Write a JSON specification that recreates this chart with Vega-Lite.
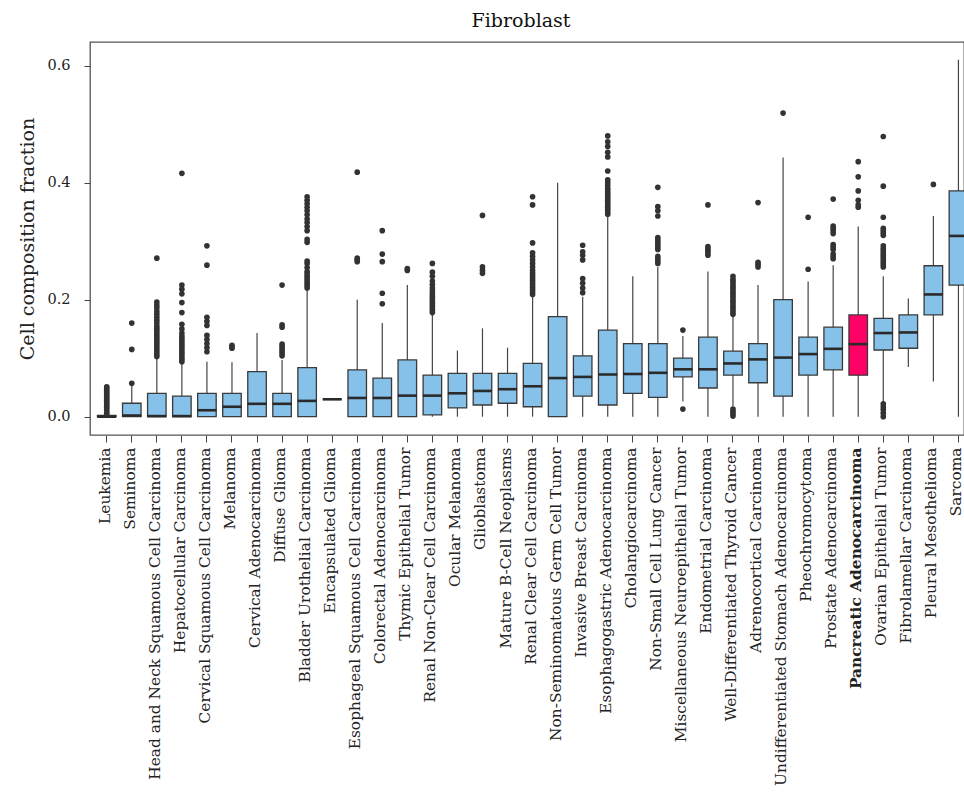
{
  "$schema": "https://vega.github.io/schema/vega-lite/v6.json",
  "width": 874,
  "height": 393,
  "autosize": {"type": "none"},
  "padding": {"left": 90, "top": 42, "right": 0, "bottom": 361},
  "background": "white",
  "config": {
    "view": {"stroke": "#555555", "strokeWidth": 1.3},
    "font": "DejaVu Serif",
    "axis": {"labelFont": "DejaVu Serif", "titleFont": "DejaVu Serif", "labelColor": "#222222", "titleColor": "#222222", "tickColor": "#444444", "domain": false, "grid": false, "labelLimit": 0}
  },
  "title": {"text": "Fibroblast", "fontSize": 19, "font": "DejaVu Serif", "fontWeight": "normal", "color": "#111111", "offset": 11, "dx": -6},
  "datasets": {
    "stats": [
      {"cancer": "Leukemia", "lo": 0.0, "q1": 0.0, "median": 0.0, "q3": 0.002, "hi": 0.003},
      {"cancer": "Seminoma", "lo": 0.0, "q1": 0.0, "median": 0.002, "q3": 0.023, "hi": 0.055},
      {"cancer": "Head and Neck Squamous Cell Carcinoma", "lo": 0.0, "q1": 0.0, "median": 0.001, "q3": 0.040, "hi": 0.100},
      {"cancer": "Hepatocellular Carcinoma", "lo": 0.0, "q1": 0.0, "median": 0.001, "q3": 0.035, "hi": 0.091},
      {"cancer": "Cervical Squamous Cell Carcinoma", "lo": 0.0, "q1": 0.0, "median": 0.011, "q3": 0.040, "hi": 0.094},
      {"cancer": "Melanoma", "lo": 0.0, "q1": 0.0, "median": 0.017, "q3": 0.040, "hi": 0.093},
      {"cancer": "Cervical Adenocarcinoma", "lo": 0.0, "q1": 0.0, "median": 0.022, "q3": 0.077, "hi": 0.143},
      {"cancer": "Diffuse Glioma", "lo": 0.0, "q1": 0.0, "median": 0.022, "q3": 0.040, "hi": 0.097},
      {"cancer": "Bladder Urothelial Carcinoma", "lo": 0.0, "q1": 0.0, "median": 0.027, "q3": 0.084, "hi": 0.217},
      {"cancer": "Encapsulated Glioma", "lo": 0.0297, "q1": 0.0297, "median": 0.0297, "q3": 0.0297, "hi": 0.0297},
      {"cancer": "Esophageal Squamous Cell Carcinoma", "lo": 0.0, "q1": 0.0, "median": 0.032, "q3": 0.080, "hi": 0.200},
      {"cancer": "Colorectal Adenocarcinoma", "lo": 0.0, "q1": 0.0, "median": 0.032, "q3": 0.066, "hi": 0.160},
      {"cancer": "Thymic Epithelial Tumor", "lo": 0.0, "q1": 0.0, "median": 0.036, "q3": 0.097, "hi": 0.225},
      {"cancer": "Renal Non-Clear Cell Carcinoma", "lo": 0.0, "q1": 0.003, "median": 0.036, "q3": 0.071, "hi": 0.174},
      {"cancer": "Ocular Melanoma", "lo": 0.0, "q1": 0.015, "median": 0.040, "q3": 0.074, "hi": 0.113},
      {"cancer": "Glioblastoma", "lo": 0.0, "q1": 0.020, "median": 0.044, "q3": 0.074, "hi": 0.151},
      {"cancer": "Mature B-Cell Neoplasms", "lo": 0.0, "q1": 0.023, "median": 0.047, "q3": 0.074, "hi": 0.118},
      {"cancer": "Renal Clear Cell Carcinoma", "lo": 0.0, "q1": 0.017, "median": 0.052, "q3": 0.091, "hi": 0.205},
      {"cancer": "Non-Seminomatous Germ Cell Tumor", "lo": 0.0, "q1": 0.0, "median": 0.066, "q3": 0.171, "hi": 0.400},
      {"cancer": "Invasive Breast Carcinoma", "lo": 0.0, "q1": 0.035, "median": 0.068, "q3": 0.104, "hi": 0.205},
      {"cancer": "Esophagogastric Adenocarcinoma", "lo": 0.0, "q1": 0.020, "median": 0.072, "q3": 0.148, "hi": 0.342},
      {"cancer": "Cholangiocarcinoma", "lo": 0.0, "q1": 0.040, "median": 0.073, "q3": 0.125, "hi": 0.240},
      {"cancer": "Non-Small Cell Lung Cancer", "lo": 0.0, "q1": 0.033, "median": 0.075, "q3": 0.125, "hi": 0.256},
      {"cancer": "Miscellaneous Neuroepithelial Tumor", "lo": 0.026, "q1": 0.068, "median": 0.081, "q3": 0.100, "hi": 0.138},
      {"cancer": "Endometrial Carcinoma", "lo": 0.0, "q1": 0.049, "median": 0.081, "q3": 0.136, "hi": 0.248},
      {"cancer": "Well-Differentiated Thyroid Cancer", "lo": 0.018, "q1": 0.071, "median": 0.091, "q3": 0.112, "hi": 0.171},
      {"cancer": "Adrenocortical Carcinoma", "lo": 0.0, "q1": 0.058, "median": 0.098, "q3": 0.125, "hi": 0.225},
      {"cancer": "Undifferentiated Stomach Adenocarcinoma", "lo": 0.0, "q1": 0.035, "median": 0.101, "q3": 0.200, "hi": 0.443},
      {"cancer": "Pheochromocytoma", "lo": 0.0, "q1": 0.071, "median": 0.107, "q3": 0.136, "hi": 0.231},
      {"cancer": "Prostate Adenocarcinoma", "lo": 0.0, "q1": 0.080, "median": 0.116, "q3": 0.153, "hi": 0.259},
      {"cancer": "Pancreatic Adenocarcinoma", "lo": 0.0, "q1": 0.071, "median": 0.124, "q3": 0.174, "hi": 0.325},
      {"cancer": "Ovarian Epithelial Tumor", "lo": 0.026, "q1": 0.114, "median": 0.143, "q3": 0.168, "hi": 0.240},
      {"cancer": "Fibrolamellar Carcinoma", "lo": 0.085, "q1": 0.117, "median": 0.144, "q3": 0.174, "hi": 0.202},
      {"cancer": "Pleural Mesothelioma", "lo": 0.060, "q1": 0.174, "median": 0.209, "q3": 0.258, "hi": 0.343},
      {"cancer": "Sarcoma", "lo": 0.0, "q1": 0.225, "median": 0.309, "q3": 0.386, "hi": 0.610}
    ],
    "outliers": [
      {"cancer": "Leukemia", "value": 0.004}, {"cancer": "Leukemia", "value": 0.007}, {"cancer": "Leukemia", "value": 0.010}, {"cancer": "Leukemia", "value": 0.013}, {"cancer": "Leukemia", "value": 0.016}, {"cancer": "Leukemia", "value": 0.019}, {"cancer": "Leukemia", "value": 0.022}, {"cancer": "Leukemia", "value": 0.025}, {"cancer": "Leukemia", "value": 0.028}, {"cancer": "Leukemia", "value": 0.031}, {"cancer": "Leukemia", "value": 0.034}, {"cancer": "Leukemia", "value": 0.037}, {"cancer": "Leukemia", "value": 0.040}, {"cancer": "Leukemia", "value": 0.043}, {"cancer": "Leukemia", "value": 0.046}, {"cancer": "Leukemia", "value": 0.049}, {"cancer": "Leukemia", "value": 0.051},
      {"cancer": "Seminoma", "value": 0.057}, {"cancer": "Seminoma", "value": 0.115}, {"cancer": "Seminoma", "value": 0.160},
      {"cancer": "Head and Neck Squamous Cell Carcinoma", "value": 0.103}, {"cancer": "Head and Neck Squamous Cell Carcinoma", "value": 0.107}, {"cancer": "Head and Neck Squamous Cell Carcinoma", "value": 0.111}, {"cancer": "Head and Neck Squamous Cell Carcinoma", "value": 0.115}, {"cancer": "Head and Neck Squamous Cell Carcinoma", "value": 0.119}, {"cancer": "Head and Neck Squamous Cell Carcinoma", "value": 0.123}, {"cancer": "Head and Neck Squamous Cell Carcinoma", "value": 0.127}, {"cancer": "Head and Neck Squamous Cell Carcinoma", "value": 0.131}, {"cancer": "Head and Neck Squamous Cell Carcinoma", "value": 0.135}, {"cancer": "Head and Neck Squamous Cell Carcinoma", "value": 0.139}, {"cancer": "Head and Neck Squamous Cell Carcinoma", "value": 0.143}, {"cancer": "Head and Neck Squamous Cell Carcinoma", "value": 0.147}, {"cancer": "Head and Neck Squamous Cell Carcinoma", "value": 0.151}, {"cancer": "Head and Neck Squamous Cell Carcinoma", "value": 0.155}, {"cancer": "Head and Neck Squamous Cell Carcinoma", "value": 0.160}, {"cancer": "Head and Neck Squamous Cell Carcinoma", "value": 0.165}, {"cancer": "Head and Neck Squamous Cell Carcinoma", "value": 0.170}, {"cancer": "Head and Neck Squamous Cell Carcinoma", "value": 0.175}, {"cancer": "Head and Neck Squamous Cell Carcinoma", "value": 0.180}, {"cancer": "Head and Neck Squamous Cell Carcinoma", "value": 0.186}, {"cancer": "Head and Neck Squamous Cell Carcinoma", "value": 0.191}, {"cancer": "Head and Neck Squamous Cell Carcinoma", "value": 0.196}, {"cancer": "Head and Neck Squamous Cell Carcinoma", "value": 0.271},
      {"cancer": "Hepatocellular Carcinoma", "value": 0.094}, {"cancer": "Hepatocellular Carcinoma", "value": 0.098}, {"cancer": "Hepatocellular Carcinoma", "value": 0.102}, {"cancer": "Hepatocellular Carcinoma", "value": 0.106}, {"cancer": "Hepatocellular Carcinoma", "value": 0.110}, {"cancer": "Hepatocellular Carcinoma", "value": 0.114}, {"cancer": "Hepatocellular Carcinoma", "value": 0.118}, {"cancer": "Hepatocellular Carcinoma", "value": 0.122}, {"cancer": "Hepatocellular Carcinoma", "value": 0.126}, {"cancer": "Hepatocellular Carcinoma", "value": 0.130}, {"cancer": "Hepatocellular Carcinoma", "value": 0.134}, {"cancer": "Hepatocellular Carcinoma", "value": 0.138}, {"cancer": "Hepatocellular Carcinoma", "value": 0.143}, {"cancer": "Hepatocellular Carcinoma", "value": 0.150}, {"cancer": "Hepatocellular Carcinoma", "value": 0.158}, {"cancer": "Hepatocellular Carcinoma", "value": 0.178}, {"cancer": "Hepatocellular Carcinoma", "value": 0.195}, {"cancer": "Hepatocellular Carcinoma", "value": 0.210}, {"cancer": "Hepatocellular Carcinoma", "value": 0.218}, {"cancer": "Hepatocellular Carcinoma", "value": 0.225}, {"cancer": "Hepatocellular Carcinoma", "value": 0.416},
      {"cancer": "Cervical Squamous Cell Carcinoma", "value": 0.111}, {"cancer": "Cervical Squamous Cell Carcinoma", "value": 0.118}, {"cancer": "Cervical Squamous Cell Carcinoma", "value": 0.125}, {"cancer": "Cervical Squamous Cell Carcinoma", "value": 0.132}, {"cancer": "Cervical Squamous Cell Carcinoma", "value": 0.139}, {"cancer": "Cervical Squamous Cell Carcinoma", "value": 0.156}, {"cancer": "Cervical Squamous Cell Carcinoma", "value": 0.163}, {"cancer": "Cervical Squamous Cell Carcinoma", "value": 0.170}, {"cancer": "Cervical Squamous Cell Carcinoma", "value": 0.259}, {"cancer": "Cervical Squamous Cell Carcinoma", "value": 0.292},
      {"cancer": "Melanoma", "value": 0.117}, {"cancer": "Melanoma", "value": 0.120}, {"cancer": "Melanoma", "value": 0.122},
      {"cancer": "Diffuse Glioma", "value": 0.104}, {"cancer": "Diffuse Glioma", "value": 0.108}, {"cancer": "Diffuse Glioma", "value": 0.112}, {"cancer": "Diffuse Glioma", "value": 0.116}, {"cancer": "Diffuse Glioma", "value": 0.120}, {"cancer": "Diffuse Glioma", "value": 0.124}, {"cancer": "Diffuse Glioma", "value": 0.153}, {"cancer": "Diffuse Glioma", "value": 0.157}, {"cancer": "Diffuse Glioma", "value": 0.225},
      {"cancer": "Bladder Urothelial Carcinoma", "value": 0.220}, {"cancer": "Bladder Urothelial Carcinoma", "value": 0.224}, {"cancer": "Bladder Urothelial Carcinoma", "value": 0.228}, {"cancer": "Bladder Urothelial Carcinoma", "value": 0.232}, {"cancer": "Bladder Urothelial Carcinoma", "value": 0.236}, {"cancer": "Bladder Urothelial Carcinoma", "value": 0.240}, {"cancer": "Bladder Urothelial Carcinoma", "value": 0.244}, {"cancer": "Bladder Urothelial Carcinoma", "value": 0.248}, {"cancer": "Bladder Urothelial Carcinoma", "value": 0.255}, {"cancer": "Bladder Urothelial Carcinoma", "value": 0.262}, {"cancer": "Bladder Urothelial Carcinoma", "value": 0.266}, {"cancer": "Bladder Urothelial Carcinoma", "value": 0.298}, {"cancer": "Bladder Urothelial Carcinoma", "value": 0.303}, {"cancer": "Bladder Urothelial Carcinoma", "value": 0.318}, {"cancer": "Bladder Urothelial Carcinoma", "value": 0.325}, {"cancer": "Bladder Urothelial Carcinoma", "value": 0.332}, {"cancer": "Bladder Urothelial Carcinoma", "value": 0.338}, {"cancer": "Bladder Urothelial Carcinoma", "value": 0.345}, {"cancer": "Bladder Urothelial Carcinoma", "value": 0.352}, {"cancer": "Bladder Urothelial Carcinoma", "value": 0.358}, {"cancer": "Bladder Urothelial Carcinoma", "value": 0.364}, {"cancer": "Bladder Urothelial Carcinoma", "value": 0.370}, {"cancer": "Bladder Urothelial Carcinoma", "value": 0.376},
      {"cancer": "Esophageal Squamous Cell Carcinoma", "value": 0.265}, {"cancer": "Esophageal Squamous Cell Carcinoma", "value": 0.268}, {"cancer": "Esophageal Squamous Cell Carcinoma", "value": 0.271}, {"cancer": "Esophageal Squamous Cell Carcinoma", "value": 0.418},
      {"cancer": "Colorectal Adenocarcinoma", "value": 0.193}, {"cancer": "Colorectal Adenocarcinoma", "value": 0.211}, {"cancer": "Colorectal Adenocarcinoma", "value": 0.265}, {"cancer": "Colorectal Adenocarcinoma", "value": 0.278}, {"cancer": "Colorectal Adenocarcinoma", "value": 0.318},
      {"cancer": "Thymic Epithelial Tumor", "value": 0.250}, {"cancer": "Thymic Epithelial Tumor", "value": 0.253},
      {"cancer": "Renal Non-Clear Cell Carcinoma", "value": 0.178}, {"cancer": "Renal Non-Clear Cell Carcinoma", "value": 0.182}, {"cancer": "Renal Non-Clear Cell Carcinoma", "value": 0.186}, {"cancer": "Renal Non-Clear Cell Carcinoma", "value": 0.190}, {"cancer": "Renal Non-Clear Cell Carcinoma", "value": 0.194}, {"cancer": "Renal Non-Clear Cell Carcinoma", "value": 0.198}, {"cancer": "Renal Non-Clear Cell Carcinoma", "value": 0.202}, {"cancer": "Renal Non-Clear Cell Carcinoma", "value": 0.206}, {"cancer": "Renal Non-Clear Cell Carcinoma", "value": 0.210}, {"cancer": "Renal Non-Clear Cell Carcinoma", "value": 0.215}, {"cancer": "Renal Non-Clear Cell Carcinoma", "value": 0.220}, {"cancer": "Renal Non-Clear Cell Carcinoma", "value": 0.226}, {"cancer": "Renal Non-Clear Cell Carcinoma", "value": 0.232}, {"cancer": "Renal Non-Clear Cell Carcinoma", "value": 0.240}, {"cancer": "Renal Non-Clear Cell Carcinoma", "value": 0.247}, {"cancer": "Renal Non-Clear Cell Carcinoma", "value": 0.262},
      {"cancer": "Glioblastoma", "value": 0.245}, {"cancer": "Glioblastoma", "value": 0.250}, {"cancer": "Glioblastoma", "value": 0.256}, {"cancer": "Glioblastoma", "value": 0.344},
      {"cancer": "Renal Clear Cell Carcinoma", "value": 0.209}, {"cancer": "Renal Clear Cell Carcinoma", "value": 0.213}, {"cancer": "Renal Clear Cell Carcinoma", "value": 0.217}, {"cancer": "Renal Clear Cell Carcinoma", "value": 0.221}, {"cancer": "Renal Clear Cell Carcinoma", "value": 0.225}, {"cancer": "Renal Clear Cell Carcinoma", "value": 0.229}, {"cancer": "Renal Clear Cell Carcinoma", "value": 0.233}, {"cancer": "Renal Clear Cell Carcinoma", "value": 0.237}, {"cancer": "Renal Clear Cell Carcinoma", "value": 0.241}, {"cancer": "Renal Clear Cell Carcinoma", "value": 0.245}, {"cancer": "Renal Clear Cell Carcinoma", "value": 0.250}, {"cancer": "Renal Clear Cell Carcinoma", "value": 0.256}, {"cancer": "Renal Clear Cell Carcinoma", "value": 0.262}, {"cancer": "Renal Clear Cell Carcinoma", "value": 0.268}, {"cancer": "Renal Clear Cell Carcinoma", "value": 0.274}, {"cancer": "Renal Clear Cell Carcinoma", "value": 0.280}, {"cancer": "Renal Clear Cell Carcinoma", "value": 0.297}, {"cancer": "Renal Clear Cell Carcinoma", "value": 0.362}, {"cancer": "Renal Clear Cell Carcinoma", "value": 0.376},
      {"cancer": "Invasive Breast Carcinoma", "value": 0.212}, {"cancer": "Invasive Breast Carcinoma", "value": 0.220}, {"cancer": "Invasive Breast Carcinoma", "value": 0.228}, {"cancer": "Invasive Breast Carcinoma", "value": 0.236}, {"cancer": "Invasive Breast Carcinoma", "value": 0.268}, {"cancer": "Invasive Breast Carcinoma", "value": 0.276}, {"cancer": "Invasive Breast Carcinoma", "value": 0.282}, {"cancer": "Invasive Breast Carcinoma", "value": 0.293},
      {"cancer": "Esophagogastric Adenocarcinoma", "value": 0.346}, {"cancer": "Esophagogastric Adenocarcinoma", "value": 0.350}, {"cancer": "Esophagogastric Adenocarcinoma", "value": 0.354}, {"cancer": "Esophagogastric Adenocarcinoma", "value": 0.358}, {"cancer": "Esophagogastric Adenocarcinoma", "value": 0.362}, {"cancer": "Esophagogastric Adenocarcinoma", "value": 0.366}, {"cancer": "Esophagogastric Adenocarcinoma", "value": 0.370}, {"cancer": "Esophagogastric Adenocarcinoma", "value": 0.374}, {"cancer": "Esophagogastric Adenocarcinoma", "value": 0.378}, {"cancer": "Esophagogastric Adenocarcinoma", "value": 0.382}, {"cancer": "Esophagogastric Adenocarcinoma", "value": 0.386}, {"cancer": "Esophagogastric Adenocarcinoma", "value": 0.390}, {"cancer": "Esophagogastric Adenocarcinoma", "value": 0.395}, {"cancer": "Esophagogastric Adenocarcinoma", "value": 0.400}, {"cancer": "Esophagogastric Adenocarcinoma", "value": 0.405}, {"cancer": "Esophagogastric Adenocarcinoma", "value": 0.420}, {"cancer": "Esophagogastric Adenocarcinoma", "value": 0.444}, {"cancer": "Esophagogastric Adenocarcinoma", "value": 0.452}, {"cancer": "Esophagogastric Adenocarcinoma", "value": 0.462}, {"cancer": "Esophagogastric Adenocarcinoma", "value": 0.470}, {"cancer": "Esophagogastric Adenocarcinoma", "value": 0.480},
      {"cancer": "Non-Small Cell Lung Cancer", "value": 0.262}, {"cancer": "Non-Small Cell Lung Cancer", "value": 0.266}, {"cancer": "Non-Small Cell Lung Cancer", "value": 0.270}, {"cancer": "Non-Small Cell Lung Cancer", "value": 0.274}, {"cancer": "Non-Small Cell Lung Cancer", "value": 0.286}, {"cancer": "Non-Small Cell Lung Cancer", "value": 0.290}, {"cancer": "Non-Small Cell Lung Cancer", "value": 0.294}, {"cancer": "Non-Small Cell Lung Cancer", "value": 0.298}, {"cancer": "Non-Small Cell Lung Cancer", "value": 0.302}, {"cancer": "Non-Small Cell Lung Cancer", "value": 0.306}, {"cancer": "Non-Small Cell Lung Cancer", "value": 0.343}, {"cancer": "Non-Small Cell Lung Cancer", "value": 0.352}, {"cancer": "Non-Small Cell Lung Cancer", "value": 0.359}, {"cancer": "Non-Small Cell Lung Cancer", "value": 0.392},
      {"cancer": "Miscellaneous Neuroepithelial Tumor", "value": 0.148}, {"cancer": "Miscellaneous Neuroepithelial Tumor", "value": 0.013},
      {"cancer": "Endometrial Carcinoma", "value": 0.276}, {"cancer": "Endometrial Carcinoma", "value": 0.280}, {"cancer": "Endometrial Carcinoma", "value": 0.284}, {"cancer": "Endometrial Carcinoma", "value": 0.287}, {"cancer": "Endometrial Carcinoma", "value": 0.291}, {"cancer": "Endometrial Carcinoma", "value": 0.362},
      {"cancer": "Well-Differentiated Thyroid Cancer", "value": 0.001}, {"cancer": "Well-Differentiated Thyroid Cancer", "value": 0.005}, {"cancer": "Well-Differentiated Thyroid Cancer", "value": 0.009}, {"cancer": "Well-Differentiated Thyroid Cancer", "value": 0.013}, {"cancer": "Well-Differentiated Thyroid Cancer", "value": 0.175}, {"cancer": "Well-Differentiated Thyroid Cancer", "value": 0.179}, {"cancer": "Well-Differentiated Thyroid Cancer", "value": 0.183}, {"cancer": "Well-Differentiated Thyroid Cancer", "value": 0.187}, {"cancer": "Well-Differentiated Thyroid Cancer", "value": 0.191}, {"cancer": "Well-Differentiated Thyroid Cancer", "value": 0.195}, {"cancer": "Well-Differentiated Thyroid Cancer", "value": 0.199}, {"cancer": "Well-Differentiated Thyroid Cancer", "value": 0.203}, {"cancer": "Well-Differentiated Thyroid Cancer", "value": 0.207}, {"cancer": "Well-Differentiated Thyroid Cancer", "value": 0.211}, {"cancer": "Well-Differentiated Thyroid Cancer", "value": 0.215}, {"cancer": "Well-Differentiated Thyroid Cancer", "value": 0.219}, {"cancer": "Well-Differentiated Thyroid Cancer", "value": 0.223}, {"cancer": "Well-Differentiated Thyroid Cancer", "value": 0.227}, {"cancer": "Well-Differentiated Thyroid Cancer", "value": 0.231}, {"cancer": "Well-Differentiated Thyroid Cancer", "value": 0.235}, {"cancer": "Well-Differentiated Thyroid Cancer", "value": 0.240},
      {"cancer": "Adrenocortical Carcinoma", "value": 0.256}, {"cancer": "Adrenocortical Carcinoma", "value": 0.260}, {"cancer": "Adrenocortical Carcinoma", "value": 0.264}, {"cancer": "Adrenocortical Carcinoma", "value": 0.366},
      {"cancer": "Undifferentiated Stomach Adenocarcinoma", "value": 0.519},
      {"cancer": "Pheochromocytoma", "value": 0.252}, {"cancer": "Pheochromocytoma", "value": 0.341},
      {"cancer": "Prostate Adenocarcinoma", "value": 0.270}, {"cancer": "Prostate Adenocarcinoma", "value": 0.274}, {"cancer": "Prostate Adenocarcinoma", "value": 0.278}, {"cancer": "Prostate Adenocarcinoma", "value": 0.286}, {"cancer": "Prostate Adenocarcinoma", "value": 0.290}, {"cancer": "Prostate Adenocarcinoma", "value": 0.294}, {"cancer": "Prostate Adenocarcinoma", "value": 0.313}, {"cancer": "Prostate Adenocarcinoma", "value": 0.318}, {"cancer": "Prostate Adenocarcinoma", "value": 0.322}, {"cancer": "Prostate Adenocarcinoma", "value": 0.326}, {"cancer": "Prostate Adenocarcinoma", "value": 0.372},
      {"cancer": "Pancreatic Adenocarcinoma", "value": 0.358}, {"cancer": "Pancreatic Adenocarcinoma", "value": 0.362}, {"cancer": "Pancreatic Adenocarcinoma", "value": 0.370}, {"cancer": "Pancreatic Adenocarcinoma", "value": 0.386}, {"cancer": "Pancreatic Adenocarcinoma", "value": 0.410}, {"cancer": "Pancreatic Adenocarcinoma", "value": 0.436},
      {"cancer": "Ovarian Epithelial Tumor", "value": 0.000}, {"cancer": "Ovarian Epithelial Tumor", "value": 0.006}, {"cancer": "Ovarian Epithelial Tumor", "value": 0.012}, {"cancer": "Ovarian Epithelial Tumor", "value": 0.017}, {"cancer": "Ovarian Epithelial Tumor", "value": 0.022}, {"cancer": "Ovarian Epithelial Tumor", "value": 0.256}, {"cancer": "Ovarian Epithelial Tumor", "value": 0.260}, {"cancer": "Ovarian Epithelial Tumor", "value": 0.264}, {"cancer": "Ovarian Epithelial Tumor", "value": 0.268}, {"cancer": "Ovarian Epithelial Tumor", "value": 0.272}, {"cancer": "Ovarian Epithelial Tumor", "value": 0.276}, {"cancer": "Ovarian Epithelial Tumor", "value": 0.280}, {"cancer": "Ovarian Epithelial Tumor", "value": 0.284}, {"cancer": "Ovarian Epithelial Tumor", "value": 0.288}, {"cancer": "Ovarian Epithelial Tumor", "value": 0.292}, {"cancer": "Ovarian Epithelial Tumor", "value": 0.310}, {"cancer": "Ovarian Epithelial Tumor", "value": 0.314}, {"cancer": "Ovarian Epithelial Tumor", "value": 0.318}, {"cancer": "Ovarian Epithelial Tumor", "value": 0.322}, {"cancer": "Ovarian Epithelial Tumor", "value": 0.341}, {"cancer": "Ovarian Epithelial Tumor", "value": 0.394}, {"cancer": "Ovarian Epithelial Tumor", "value": 0.479},
      {"cancer": "Pleural Mesothelioma", "value": 0.397}
    ]
  },
  "encoding": {
    "x": {
      "field": "cancer",
      "type": "nominal",
      "scale": {
        "type": "band",
        "domain": ["Leukemia", "Seminoma", "Head and Neck Squamous Cell Carcinoma", "Hepatocellular Carcinoma", "Cervical Squamous Cell Carcinoma", "Melanoma", "Cervical Adenocarcinoma", "Diffuse Glioma", "Bladder Urothelial Carcinoma", "Encapsulated Glioma", "Esophageal Squamous Cell Carcinoma", "Colorectal Adenocarcinoma", "Thymic Epithelial Tumor", "Renal Non-Clear Cell Carcinoma", "Ocular Melanoma", "Glioblastoma", "Mature B-Cell Neoplasms", "Renal Clear Cell Carcinoma", "Non-Seminomatous Germ Cell Tumor", "Invasive Breast Carcinoma", "Esophagogastric Adenocarcinoma", "Cholangiocarcinoma", "Non-Small Cell Lung Cancer", "Miscellaneous Neuroepithelial Tumor", "Endometrial Carcinoma", "Well-Differentiated Thyroid Cancer", "Adrenocortical Carcinoma", "Undifferentiated Stomach Adenocarcinoma", "Pheochromocytoma", "Prostate Adenocarcinoma", "Pancreatic Adenocarcinoma", "Ovarian Epithelial Tumor", "Fibrolamellar Carcinoma", "Pleural Mesothelioma", "Sarcoma"],
        "range": [4.2, 880.95],
        "paddingInner": 0,
        "paddingOuter": 0
      },
      "axis": {
        "title": null,
        "labelAngle": -90,
        "labelFontSize": 15.4,
        "labelPadding": 5,
        "labelOffset": -2,
        "tickSize": 7,
        "labelLimit": 0,
        "labelFontWeight": {"condition": {"test": "datum.value === 'Pancreatic Adenocarcinoma'", "value": "bold"}, "value": "normal"}
      }
    }
  },
  "layer": [
    {
      "data": {"name": "stats"},
      "mark": {"type": "rule", "color": "#444444", "strokeWidth": 1.2},
      "encoding": {
        "y": {
          "field": "lo",
          "type": "quantitative",
          "scale": {"domain": [-0.0313, 0.6405], "nice": false, "zero": false},
          "axis": {"title": "Cell composition fraction", "titleFontSize": 19, "titleFontWeight": "normal", "titlePadding": 9, "values": [0, 0.2, 0.4, 0.6], "format": ".1f", "labelFontSize": 14.5, "labelPadding": 14, "tickSize": 6}
        },
        "y2": {"field": "hi"}
      }
    },
    {
      "data": {"name": "stats"},
      "mark": {"type": "bar", "stroke": "#3a3a3a", "strokeWidth": 1.3, "width": {"band": 0.74}},
      "encoding": {
        "y": {"field": "q1", "type": "quantitative"},
        "y2": {"field": "q3"},
        "fill": {"condition": {"test": "datum.cancer === 'Pancreatic Adenocarcinoma'", "value": "#FF0066"}, "value": "#85C1E9"}
      }
    },
    {
      "data": {"name": "stats"},
      "mark": {"type": "tick", "color": "#2a2a2a", "thickness": 2.6, "size": 19, "opacity": 1},
      "encoding": {
        "y": {"field": "median", "type": "quantitative"}
      }
    },
    {
      "data": {"name": "outliers"},
      "mark": {"type": "circle", "color": "#333333", "size": 32, "opacity": 1},
      "encoding": {
        "y": {"field": "value", "type": "quantitative"}
      }
    }
  ]
}
